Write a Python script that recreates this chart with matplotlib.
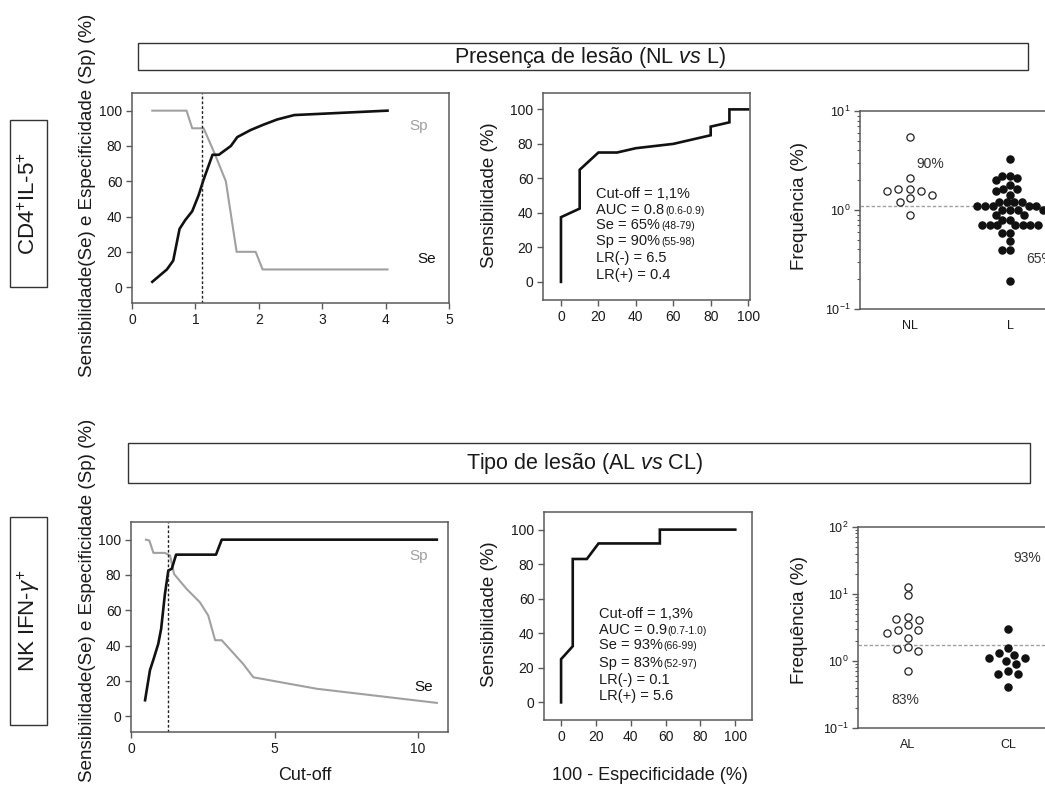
import numpy as np
import matplotlib
matplotlib.use("Agg")
import matplotlib.pyplot as plt
import matplotlib.transforms as mtransforms
from matplotlib.patches import Rectangle
from matplotlib.ticker import LogLocator, NullFormatter

plt.rcParams['font.family'] = ['Liberation Sans', 'DejaVu Sans']
plt.rcParams['mathtext.fontset'] = 'custom'
plt.rcParams['mathtext.rm'] = 'Liberation Sans'
plt.rcParams['mathtext.it'] = 'Liberation Sans:italic'
plt.rcParams['mathtext.bf'] = 'Liberation Sans:bold'

# ---------------- data ----------------
# Panel A (CD4+IL-5+, NL vs L) : Se / Sp versus cut-off
se_a_x = [0.32, 0.55, 0.65, 0.75, 0.84, 0.95, 1.05, 1.13, 1.27, 1.37, 1.56, 1.66, 1.87, 2.07, 2.29, 2.56, 4.03]
se_a_y = [3, 10, 15, 33, 38, 43, 52, 61, 75, 75, 80, 85, 89, 92, 95, 97.5, 100]
sp_a_x = [0.32, 0.86, 0.95, 1.13, 1.30, 1.48, 1.65, 1.95, 2.06, 4.03]
sp_a_y = [100, 100, 90, 90, 76, 60, 20, 20, 10, 10]
cut_a = 1.1
# ROC A
roc_a_x = [0, 0, 10, 10, 20, 30, 40, 60, 80, 80, 90, 90, 100]
roc_a_y = [0, 37.5, 42.5, 65, 75, 75, 77.5, 80, 85, 90, 92.5, 100, 100]
stats_a = [("Cut-off = 1,1%", ""), ("AUC = 0.8", "(0.6-0.9)"), ("Se = 65%", "(48-79)"),
           ("Sp = 90%", "(55-98)"), ("LR(-) = 6.5", ""), ("LR(+) = 0.4", "")]
# dot plot A
groups_a = ["NL", "L"]
nl_vals = [5.46, 2.09, 1.64, 1.64, 1.55, 1.32, 1.42, 1.54, 1.21, 0.90]
l_vals = ([3.24, 2.21, 2.21, 2.12, 2.00, 1.78, 1.64, 1.64, 1.54, 1.42]
          + [1.21] * 4 + [1.10] * 5 + [1.01] * 4 + [0.90] * 2 + [0.80] * 2
          + [0.70] * 7 + [0.59] * 2 + [0.49] + [0.39] * 2 + [0.19])
pct_a = ["90%", "65%"]

# Panel B (NK IFN-g+, AL vs CL)
se_b_x = [0.49, 0.66, 0.78, 0.95, 1.05, 1.18, 1.30, 1.42, 1.57, 2.96, 3.16, 10.65]
se_b_y = [9, 26, 32, 41, 49.5, 69, 82.5, 83.5, 91.5, 91.5, 100, 100]
sp_b_x = [0.52, 0.64, 0.78, 1.18, 1.36, 1.50, 1.94, 2.40, 2.69, 2.93, 3.16, 3.91, 4.26, 6.47, 10.65]
sp_b_y = [100, 99.5, 92.5, 92.5, 91, 80.5, 72, 64.5, 57, 43, 43, 29.5, 22, 15.5, 7.5]
cut_b = 1.3
roc_b_x = [0, 0, 6.7, 6.7, 14.8, 21.5, 56.7, 56.7, 100]
roc_b_y = [0, 25, 32.5, 83, 83, 92, 92, 100, 100]
stats_b = [("Cut-off = 1,3%", ""), ("AUC = 0.9", "(0.7-1.0)"), ("Se = 93%", "(66-99)"),
           ("Sp = 83%", "(52-97)"), ("LR(-) = 0.1", ""), ("LR(+) = 5.6", "")]
groups_b = ["AL", "CL"]
al_vals = [12.7, 9.55, 4.03, 2.92, 4.27, 2.92, 2.24, 4.52, 3.39, 2.6, 1.64, 1.41, 1.51, 0.72]
cl_vals = [3.02, 1.55, 1.12, 1.23, 1.30, 1.01, 1.12, 0.90, 0.72, 0.63, 0.63, 0.41]
dot_cut_b = 1.75
pct_b = ["83%", "93%"]

# ---------------- figure ----------------
W, H = 1045, 791
fig = plt.figure(figsize=(W / 100, H / 100), dpi=100)
fig.patch.set_facecolor("white")

SPINE = "#5a5a5a"
TXT = "#1a1a1a"
GREY = "#a0a0a0"


def add_ax(l, t, r, b):
    return fig.add_axes([l / W, 1 - b / H, (r - l) / W, (b - t) / H])


def style(ax, fs=10):
    for s in ax.spines.values():
        s.set_color(SPINE)
        s.set_linewidth(1.1)
    ax.tick_params(axis="both", which="major", direction="out", length=4, width=1.0,
                   color=SPINE, labelsize=fs, labelcolor=TXT, pad=3)
    ax.tick_params(axis="both", which="minor", direction="out", length=2, width=0.8, color=SPINE)


def fpx(x, y):
    return x / W, 1 - y / H


# --- cut-off panels ---
def cutoff_panel(ax, sex, sey, spx, spy, cut, xlim, xticks, sp_pos, se_pos):
    ax.plot(spx, spy, color=GREY, lw=1.5, solid_joinstyle="round")
    ax.plot(sex, sey, color="#111111", lw=1.9, solid_joinstyle="round")
    ax.axvline(cut, color="#222222", lw=1.0, ls=(0, (2, 1.5)))
    ax.set_xlim(*xlim)
    ax.set_ylim(-9, 110)
    ax.set_xticks(xticks)
    ax.set_yticks([0, 20, 40, 60, 80, 100])
    ax.text(sp_pos[0], sp_pos[1], "Sp", color=GREY, fontsize=11, ha="center", va="center")
    ax.text(se_pos[0], se_pos[1], "Se", color="#111111", fontsize=11, ha="center", va="center")
    style(ax)


axA1 = add_ax(132, 93, 449, 303)
cutoff_panel(axA1, se_a_x, se_a_y, sp_a_x, sp_a_y, cut_a, (0, 5), [0, 1, 2, 3, 4, 5], (4.52, 91.5), (4.64, 16))
axB1 = add_ax(131, 522, 448, 732)
cutoff_panel(axB1, se_b_x, se_b_y, sp_b_x, sp_b_y, cut_b, (0, 11.04), [0, 5, 10], (10.0, 91), (10.2, 16.4))


# --- ROC panels ---
def roc_panel(ax, rx, ry, xlim, ylim, stats, tx, tys):
    ax.plot(rx, ry, color="#111111", lw=1.9, solid_joinstyle="miter")
    ax.set_xlim(*xlim)
    ax.set_ylim(*ylim)
    ax.set_xticks([0, 20, 40, 60, 80, 100])
    ax.set_yticks([0, 20, 40, 60, 80, 100])
    style(ax)
    r = fig.canvas.get_renderer()
    for (main, small), ty in zip(stats, tys):
        t = ax.text(tx, ty, main, fontsize=10.5, color=TXT, ha="left", va="baseline")
        if small:
            bb = t.get_window_extent(r)
            x0 = ax.transData.transform((tx, ty))[0]
            tr = mtransforms.offset_copy(ax.transData, fig=fig, x=bb.x1 - x0 + 1, y=0, units="dots")
            ax.text(tx, ty, small, fontsize=7.5, color=TXT, ha="left", va="baseline", transform=tr)


axA2 = add_ax(543, 93, 750, 300)
roc_panel(axA2, roc_a_x, roc_a_y, (-9.6, 101), (-10.5, 109.5), stats_a, 18.9,
          [48.5, 39.5, 30.4, 21.1, 11.5, 1.8])
axB2 = add_ax(544, 512, 752, 720)
roc_panel(axB2, roc_b_x, roc_b_y, (-9.8, 109.6), (-10.2, 110.2), stats_b, 21.5,
          [48.8, 39.8, 30.7, 20.5, 10.9, 1.2])


# --- dot plots ---
def swarm_x(ax, xc, vals, hx, hy):
    """Place points around xc so that no two lie closer than an ellipse hx (horiz) by hy (vert) in pixels."""
    vals = np.asarray(vals, float)
    disp = ax.transData.transform(np.column_stack([np.full(len(vals), xc), vals]))
    ypx = disp[:, 1]
    x0 = disp[0, 0]
    order = np.argsort(-vals, kind="stable")
    placed = []
    offs = np.zeros(len(vals))

    def ok(c, y):
        return all(((c - xo) / hx) ** 2 + ((y - yo) / hy) ** 2 >= 1 - 1e-6 for xo, yo in placed)

    for i in order:
        y = ypx[i]
        cands = [0.0]
        for xo, yo in placed:
            dy = abs(y - yo)
            if dy < hy:
                dx = hx * np.sqrt(1 - (dy / hy) ** 2)
                cands += [xo + dx, xo - dx]
        cands = sorted(cands, key=lambda c: (round(abs(c), 6), c))
        for c in cands:
            if ok(c, y):
                offs[i] = c
                break
        placed.append((offs[i], y))
    inv = ax.transData.inverted()
    return inv.transform(np.column_stack([x0 + offs, ypx]))[:, 0]


def dot_panel(ax, groups, v_open, v_fill, ylim, cut, pcts, pct_pos, sp_open, sp_fill):
    ax.set_yscale("log")
    ax.set_xlim(-0.5, 1.5)
    ax.set_ylim(*ylim)
    xs0 = swarm_x(ax, 0, v_open, sp_open, 7.6)
    xs1 = swarm_x(ax, 1, v_fill, sp_fill, 7.6)
    ax.axhline(cut, color=GREY, lw=1.0, ls=(0, (2.5, 1.5)), zorder=1)
    ax.plot(xs0, v_open, "o", ms=5.2, mfc="white", mec="#222222", mew=0.9, ls="none", zorder=3)
    ax.plot(xs1, v_fill, "o", ms=5.2, mfc="#111111", mec="#111111", mew=0.9, ls="none", zorder=3)
    ax.set_xticks([0, 1])
    ax.set_xticklabels(groups)
    ax.yaxis.set_major_locator(LogLocator(base=10, numticks=10))
    ax.yaxis.set_minor_locator(LogLocator(base=10, subs=np.arange(2, 10), numticks=10))
    ax.yaxis.set_minor_formatter(NullFormatter())
    style(ax, fs=9)
    ax.tick_params(axis="x", length=0, pad=8)
    for p, (px, py) in zip(pcts, pct_pos):
        ax.text(px, py, p, fontsize=10, color="#333333", ha="center", va="center")


axA3 = add_ax(860, 111, 1060, 309)
dot_panel(axA3, groups_a, nl_vals, l_vals, (0.1, 10), cut_a, pct_a, [(0.2, 2.9), (1.3, 0.32)], 12, 7.7)
axB3 = add_ax(858, 527, 1058, 728)
dot_panel(axB3, groups_b, al_vals, cl_vals, (0.1, 100), dot_cut_b, pct_b, [(-0.03, 0.26), (1.19, 35)], 12, 12)

# --- axis labels ---
ylab = "Sensibilidade(Se) e Especificidade (Sp) (%)"
fig.text(*fpx(88, 195), ylab, rotation=90, fontsize=13.5, ha="center", va="center", color=TXT)
fig.text(*fpx(88, 600), ylab, rotation=90, fontsize=13.5, ha="center", va="center", color=TXT)
fig.text(*fpx(490, 195), "Sensibilidade (%)", rotation=90, fontsize=13.5, ha="center", va="center", color=TXT)
fig.text(*fpx(490, 614), "Sensibilidade (%)", rotation=90, fontsize=13.5, ha="center", va="center", color=TXT)
fig.text(*fpx(800, 206), "Frequência (%)", rotation=90, fontsize=13.5, ha="center", va="center", color=TXT)
fig.text(*fpx(800, 620), "Frequência (%)", rotation=90, fontsize=13.5, ha="center", va="center", color=TXT)
fig.text(*fpx(305, 776), "Cut-off", fontsize=13, ha="center", va="center", color=TXT)
fig.text(*fpx(650, 776), "100 - Especificidade (%)", fontsize=13, ha="center", va="center", color=TXT)


# --- banners and row labels ---
def box(l, t, r, b):
    fig.add_artist(Rectangle(fpx(l, b), (r - l) / W, (b - t) / H, transform=fig.transFigure,
                             fill=False, edgecolor="#333333", lw=1.0))


box(138, 43, 1028, 70)
fig.text(*fpx(590, 57), r"Presença de lesão (NL $\it{vs}$ L)", fontsize=15.5, ha="center", va="center", color=TXT)
box(128, 443, 1030, 483)
fig.text(*fpx(585, 464), r"Tipo de lesão (AL $\it{vs}$ CL)", fontsize=15.5, ha="center", va="center", color=TXT)

box(10, 120, 47, 287)
fig.text(*fpx(29, 203), r"CD4$^{+}$IL-5$^{+}$", rotation=90, fontsize=16, ha="center", va="center", color=TXT)
box(10, 517, 47, 725)
fig.text(*fpx(29, 621), r"NK IFN-$\gamma^{+}$", rotation=90, fontsize=16, ha="center", va="center", color=TXT)

fig.savefig("out.png", dpi=100, facecolor="white")
